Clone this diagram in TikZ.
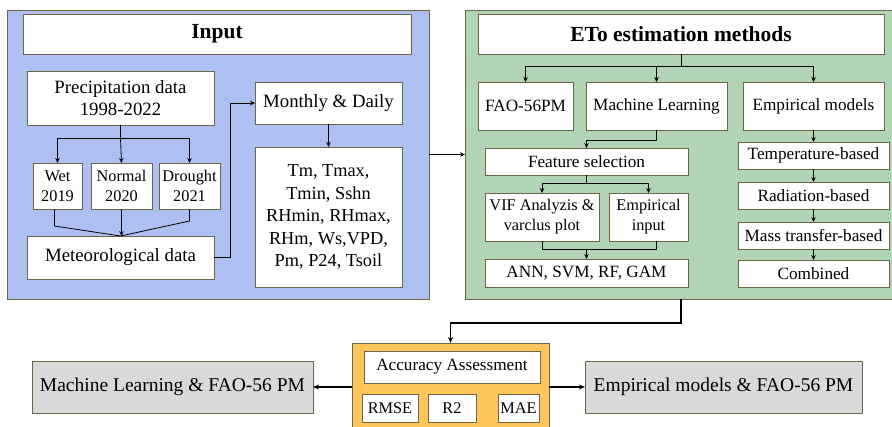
\documentclass[tikz,border=0pt]{standalone}
\usepackage{fontspec}
\setmainfont{Liberation Serif}
\usetikzlibrary{arrows.meta}
\definecolor{inblue}{RGB}{174,191,242}
\definecolor{etogreen}{RGB}{176,212,180}
\definecolor{accorange}{RGB}{255,197,90}
\definecolor{resgray}{RGB}{217,217,217}
\definecolor{bordc}{RGB}{110,100,70}
\newcommand\mkbox[7]{%
  \node[#6, minimum width={(#4-#2)*1pt}, minimum height={(#5-#3)*1pt}]
    (#1) at ({(#2+#4)/2},{(#3+#5)/2}) {#7};}
\begin{document}
\begin{tikzpicture}[x=1pt,y=-1pt,
  every node/.style={inner sep=0pt, outer sep=0pt, align=center},
  panel/.style={draw=bordc, line width=0.9pt},
  wbox/.style={draw=bordc, fill=white, line width=0.8pt, font=\fontsize{17.2}{20}\selectfont},
  lbox/.style={wbox, font=\fontsize{18.8}{22}\selectfont},
  vbox/.style={wbox, font=\fontsize{18.3}{22.5}\selectfont},
  tbox/.style={wbox, font=\fontsize{21.5}{24}\selectfont\bfseries},
  sbox/.style={wbox, font=\fontsize{16.3}{20}\selectfont},
  gbox/.style={draw=bordc, fill=resgray, line width=0.8pt, font=\fontsize{19.5}{22}\selectfont},
  arr/.style={-{Stealth[length=5pt,width=4.5pt]}, line width=0.8pt},
  bigarr/.style={-{Stealth[length=6pt,width=5pt]}, line width=1.4pt},
  ln/.style={line width=0.8pt}]
\useasboundingbox (0,0) rectangle (892,426);
\clip (0,0) rectangle (892,426);
% panels
\mkbox{inp}{7}{10}{429}{299}{panel, fill=inblue}{}
\mkbox{eto}{465}{10}{896}{299}{panel, fill=etogreen}{}
\mkbox{acc}{352}{343}{549}{430}{panel, fill=accorange}{}
% input panel
\mkbox{inpt}{23}{14}{411}{54}{tbox}{Input}
\mkbox{prec}{27}{71}{214}{125}{lbox}{Precipitation data\\1998-2022}
\mkbox{wet}{33}{163}{82}{209}{sbox}{Wet\\2019}
\mkbox{normal}{91}{163}{152}{209}{sbox}{Normal\\2020}
\mkbox{drought}{159}{163}{220}{209}{sbox}{Drought\\2021}
\mkbox{met}{27}{236}{214}{279}{lbox}{Meteorological data}
\mkbox{month}{255}{82}{402}{124}{lbox}{Monthly \& Daily}
\mkbox{vars}{255}{147}{402}{287}{vbox}{Tm, Tmax,\\Tmin, Sshn\\RHmin, RHmax,\\RHm, Ws,VPD,\\Pm, P24, Tsoil}
% eto panel
\mkbox{etot}{478}{14}{884}{54}{tbox}{ETo estimation methods}
\mkbox{fao}{478}{82}{573}{130}{wbox}{FAO-56PM}
\mkbox{ml}{586}{82}{727}{130}{wbox}{Machine Learning}
\mkbox{emp}{743}{82}{884}{130}{wbox}{Empirical models}
\mkbox{fs}{485}{148}{688}{175}{wbox}{Feature selection}
\mkbox{vif}{485}{193}{599}{241}{sbox}{VIF Analyzis \&\\varclus plot}
\mkbox{ei}{609}{193}{688}{241}{sbox}{Empirical\\input}
\mkbox{ann}{485}{259}{688}{287}{wbox}{ANN, SVM, RF, GAM}
\mkbox{temp}{738}{142}{889}{169}{wbox}{Temperature-based}
\mkbox{rad}{738}{182}{889}{209}{wbox}{Radiation-based}
\mkbox{mass}{738}{222}{889}{249}{wbox}{Mass transfer-based}
\mkbox{comb}{738}{260}{889}{287}{wbox}{Combined}
% bottom
\mkbox{accb}{364}{351}{540}{383}{wbox}{Accuracy Assessment}
\mkbox{rmse}{362}{394}{418}{422}{sbox}{RMSE}
\mkbox{rtwo}{428}{394}{476}{422}{sbox}{R2}
\mkbox{mae}{498}{394}{539}{422}{sbox}{MAE}
\mkbox{gl}{32}{361}{313}{413}{gbox}{Machine Learning \& FAO-56 PM}
\mkbox{gr}{585}{361}{862}{413}{gbox}{Empirical models \& FAO-56 PM}
% input connectors
\coordinate (pb) at ([yshift=-13pt]prec.south);
\draw[ln] (prec.south) -- (pb);
\draw[arr] (pb) -| (wet.north);
\draw[arr] (pb) -| (drought.north);
\draw[arr] (pb) -- (normal.north);
\draw[ln] ([xshift=-3pt]wet.south) -- ++(0,17) -- (met.north);
\draw[ln] (drought.south) -- ++(0,12) -- (met.north);
\draw[arr] (normal.south) -- (normal.south |- met.north);
\draw[arr] (met.east) -- ++(16,0) |- (month.west);
\draw[arr] (month.south) -- (vars.north);
\draw[arr, line width=1pt] (inp.east) -- (eto.west);
% eto connectors
\coordinate (eb) at ([yshift=-12pt]etot.south);
\draw[ln] (etot.south) -- (eb);
\draw[arr] (eb) -| (fao.north);
\draw[arr] (eb) -| (emp.north);
\draw[arr] (eb -| ml.north) -- (ml.north);
\draw[arr] (ml.south) -- ++(0,10) -| (fs.north);
\coordinate (fb) at ([yshift=-8pt]fs.south);
\draw[ln] (fs.south) -- (fb);
\draw[arr] (fb) -| (vif.north);
\draw[arr] (fb) -| (ei.north);
\coordinate (vb) at ([yshift=-8pt]vif.south);
\draw[ln] (vif.south) -- (vb) -- ([xshift=8pt]vb -| ei.south) -- ([xshift=8pt]ei.south);
\draw[arr] (vb -| ann.north) -- (ann.north);
\draw[arr] (emp.south) -- (emp.south |- temp.north);
\draw[arr] (temp.south) -- (rad.north);
\draw[arr] (rad.south) -- (mass.north);
\draw[arr] (mass.south) -- (comb.north);
% bottom connectors
\draw[bigarr] (681,299) -- (681,323) -| (acc.north);
\draw[bigarr] (acc.west |- gl.east) -- (gl.east);
\draw[bigarr] (acc.east |- gr.west) -- (gr.west);
\end{tikzpicture}
\end{document}
